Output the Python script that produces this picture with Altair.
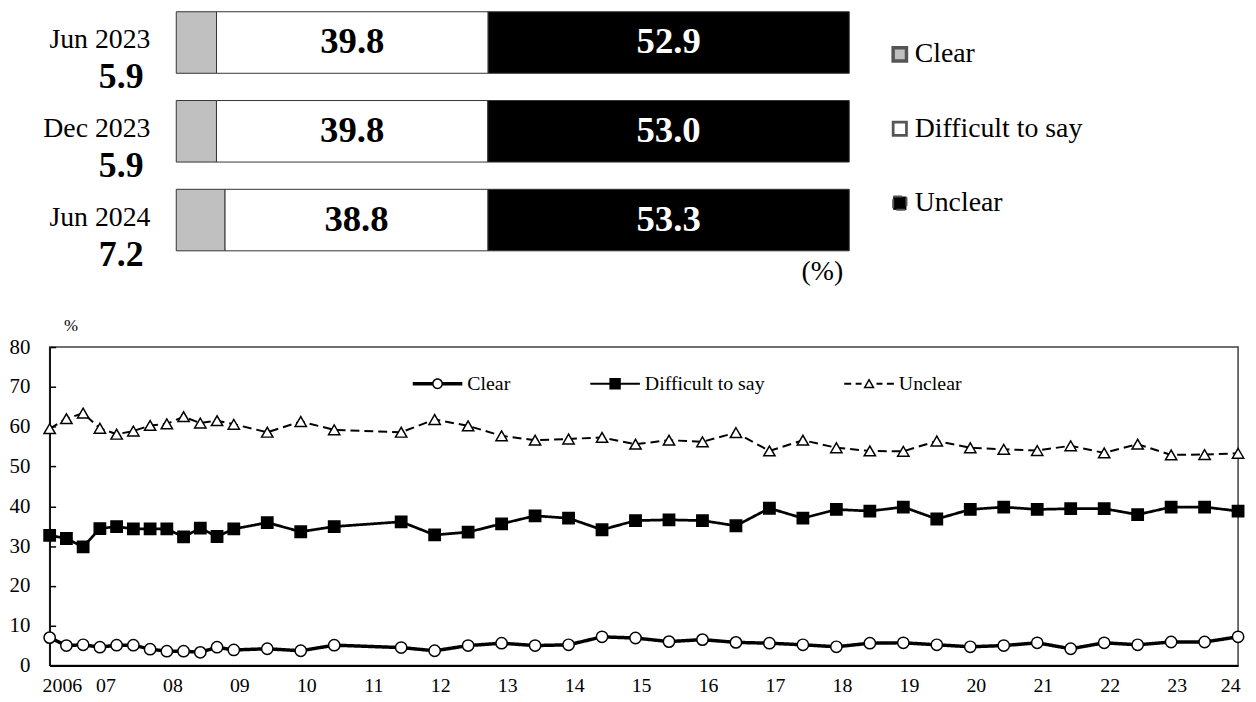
import altair as alt
import pandas as pd

FONT = "Liberation Serif"

# ---------------- top panel: latest three surveys ----------------
periods = ["Jun 2023", "Dec 2023", "Jun 2024"]
categories = ["Clear", "Difficult to say", "Unclear"]
clear_now = [5.9, 5.9, 7.2]
difficult_now = [39.8, 39.8, 38.8]
unclear_now = [52.9, 53.0, 53.3]

# ---------------- bottom panel: time series ----------------
survey_dates = [
    "2006-09", "2006-12", "2007-03", "2007-06", "2007-09", "2007-12",
    "2008-03", "2008-06", "2008-09", "2008-12", "2009-03", "2009-06",
    "2009-12", "2010-06", "2010-12", "2011-12", "2012-06", "2012-12",
    "2013-06", "2013-12", "2014-06", "2014-12", "2015-06", "2015-12",
    "2016-06", "2016-12", "2017-06", "2017-12", "2018-06", "2018-12",
    "2019-06", "2019-12", "2020-06", "2020-12", "2021-06", "2021-12",
    "2022-06", "2022-12", "2023-06", "2023-12", "2024-06",
]
clear_series = [
    7.0, 5.0, 5.2, 4.6, 5.1, 5.1, 4.1, 3.6, 3.6, 3.3, 4.6, 3.9,
    4.2, 3.7, 5.1, 4.5, 3.7, 5.0, 5.6, 5.0, 5.2, 7.2, 6.9, 6.0,
    6.5, 5.8, 5.6, 5.2, 4.7, 5.6, 5.7, 5.2, 4.7, 5.0, 5.7, 4.2,
    5.7, 5.2, 5.9, 5.9, 7.2,
]
difficult_series = [
    32.7, 31.9, 29.8, 34.4, 34.9, 34.3, 34.3, 34.3, 32.3, 34.5, 32.4, 34.3,
    35.9, 33.6, 34.9, 36.1, 32.8, 33.5, 35.6, 37.6, 37.0, 34.1, 36.4, 36.6,
    36.4, 35.1, 39.5, 37.0, 39.2, 38.8, 39.8, 36.8, 39.2, 39.8, 39.2, 39.4,
    39.4, 37.9, 39.8, 39.8, 38.8,
]
unclear_series = [
    59.5, 62.0, 63.4, 59.6, 58.1, 58.9, 60.3, 60.7, 62.5, 60.9, 61.5, 60.6,
    58.6, 61.3, 59.2, 58.6, 61.8, 60.2, 57.7, 56.6, 56.9, 57.3, 55.6, 56.6,
    56.2, 58.5, 53.9, 56.6, 54.7, 53.9, 53.8, 56.4, 54.7, 54.3, 54.0, 55.2,
    53.4, 55.6, 52.9, 53.0, 53.3,
]
series_names = ["Clear", "Difficult to say", "Unclear"]

# axis structure of the time-series panel
x_start, x_end = 2006 + 8 / 12, 2024 + 5 / 12
label_vals = [2006.85] + [y + 0.5 for y in range(2007, 2024)] + [2024.3]

W = 1198          # plot width (both panels)
H = 321           # plot height of the time-series panel

# ---------------- tables ----------------
rows = []
for i, p in enumerate(periods):
    for j, vals in enumerate([clear_now, difficult_now, unclear_now]):
        rows.append({"period": p, "category": categories[j], "value": vals[i], "order": j})
bar_df = pd.DataFrame(rows)
lab_df = pd.DataFrame({"period": periods, "clear": clear_now})

lrows = []
for name, vals in zip(series_names, [clear_series, difficult_series, unclear_series]):
    for d, v in zip(survey_dates, vals):
        y, m = int(d[:4]), int(d[5:])
        lrows.append({"series": name, "date": d, "t": y + (m - 1) / 12, "value": v})
line_df = pd.DataFrame(lrows)

# ---------------- top chart ----------------
xs = alt.Scale(domain=[-0.1881, 1.5778], nice=False, zero=False)
ys = alt.Scale(domain=periods, paddingInner=0.307, paddingOuter=0)

bars = alt.Chart(bar_df).mark_bar(stroke="#333333", strokeWidth=1).encode(
    x=alt.X("value:Q", stack="normalize", scale=xs, axis=None),
    y=alt.Y("period:N", scale=ys, axis=None),
    fill=alt.Fill("category:N",
                  scale=alt.Scale(domain=categories, range=["#c0c0c0", "#ffffff", "#000000"]),
                  legend=alt.Legend(title=None, orient="none", legendX=843, legendY=29,
                                    direction="vertical", symbolType="square", symbolSize=180,
                                    symbolStrokeColor="#555555", symbolStrokeWidth=1,
                                    labelFont=FONT, labelFontSize=28, labelColor="black",
                                    labelOffset=1, labelLimit=400, rowPadding=47, padding=0)),
    order=alt.Order("order:Q"),
)

seg_labels = alt.Chart(bar_df).transform_stack(
    stack="value", groupby=["period"], as_=["v0", "v1"], offset="normalize",
    sort=[alt.SortField("order", order="ascending")]
).transform_calculate(
    mid="(datum.v0 + datum.v1) / 2"
).transform_filter(
    "datum.category !== 'Clear'"
).mark_text(font=FONT, fontSize=37, fontWeight="bold", baseline="middle").encode(
    x=alt.X("mid:Q", scale=xs, axis=None),
    y=alt.Y("period:N", scale=ys, axis=None),
    text=alt.Text("value:Q", format=".1f"),
    color=alt.Color("category:N",
                    scale=alt.Scale(domain=["Difficult to say", "Unclear"], range=["black", "white"]),
                    legend=None),
)

names = alt.Chart(lab_df).mark_text(font=FONT, fontSize=28, align="right", baseline="middle",
                                    dx=-26, dy=-2, color="black").encode(
    x=alt.XDatum(0, scale=xs, axis=None),
    y=alt.Y("period:N", scale=ys, axis=None),
    text="period:N",
)

clear_vals = alt.Chart(lab_df).mark_text(font=FONT, fontSize=36, fontWeight="bold", align="right",
                                         baseline="middle", dx=-33, dy=35, color="black").encode(
    x=alt.XDatum(0, scale=xs, axis=None),
    y=alt.Y("period:N", scale=ys, axis=None),
    text=alt.Text("clear:Q", format=".1f"),
)

top = alt.layer(bars, seg_labels, names, clear_vals).properties(
    width=W, height=241, view=alt.ViewBackground(stroke="transparent"),
    title=alt.TitleParams("(%)", orient="bottom", anchor="start", frame="group", align="left",
                          dx=758, offset=-15, font=FONT, fontSize=28, fontWeight="normal",
                          color="black"),
)

# ---------------- bottom chart ----------------
xsc = alt.Scale(domain=[x_start, x_end], nice=False, zero=False)
ysc = alt.Scale(domain=[0, 80], nice=False)

ax_bottom = alt.Axis(
    orient="bottom", values=label_vals,
    labelExpr="datum.value < 2007 ? '2006' : format(floor(datum.value) % 100, '02d')",
    ticks=False, tickSize=0, domain=True, domainColor="black", domainWidth=2,
    grid=False, title=None, labelFont=FONT, labelFontSize=20, labelColor="black",
    labelPadding=10, labelFlush=False, labelOverlap=False, labelBound=False,
)
ay_left = alt.Axis(
    orient="left", values=list(range(0, 81, 10)), ticks=True, tickColor="black",
    tickSize={"expr": "-6"}, tickWidth=1.5,
    domainColor="black", domainWidth=1.5, grid=False, labelFont=FONT,
    labelFontSize=21, labelColor="black", labelPadding=26, labelFlush=False,
    title="%", titleAngle=0, titleX=21, titleY=-22, titleFontSize=17,
    titleFontWeight="normal", titleFont=FONT, titleAlign="center",
    titleBaseline="middle", titleColor="black",
)

# legend symbols (line + marker) drawn as filled custom symbol paths, 1 unit = 25 px
PATH_C = ("M-1,-0.07L-0.2,-0.07L-0.2,0.07L-1,0.07Z"
          "M0.2,-0.07L1,-0.07L1,0.07L0.2,0.07Z"
          "M0.22,0A0.22,0.22,0,1,1,-0.22,0A0.22,0.22,0,1,1,0.22,0Z"
          "M0.16,0A0.16,0.16,0,1,0,-0.16,0A0.16,0.16,0,1,0,0.16,0Z")
PATH_D = ("M-1,-0.04L1,-0.04L1,0.04L-1,0.04Z"
          "M-0.23,-0.23L0.23,-0.23L0.23,0.23L-0.23,0.23Z")
PATH_U = ("M-1,-0.04L-0.72,-0.04L-0.72,0.04L-1,0.04Z"
          "M-0.54,-0.04L-0.3,-0.04L-0.3,0.04L-0.54,0.04Z"
          "M0.3,-0.04L0.54,-0.04L0.54,0.04L0.3,0.04Z"
          "M0.72,-0.04L1,-0.04L1,0.04L0.72,0.04Z"
          "M0,-0.22L0.23,0.18L-0.23,0.18Z"
          "M0,-0.1L-0.126,0.12L0.126,0.12Z")

legend_bottom = alt.Legend(
    title=None, orient="none", legendX=366, legendY=12, direction="horizontal", columns=3,
    columnPadding=80, symbolSize=2500, symbolStrokeWidth=0,
    labelFont=FONT, labelFontSize=20, labelColor="black", labelOffset=5, labelLimit=400, padding=0,
)

lines = alt.Chart(line_df).mark_line(color="black").encode(
    x=alt.X("t:Q", scale=xsc, axis=ax_bottom),
    y=alt.Y("value:Q", scale=ysc, axis=ay_left),
    detail="series:N",
    strokeDash=alt.StrokeDash("series:N",
                              scale=alt.Scale(domain=series_names, range=[[1, 0], [1, 0], [9, 5]]),
                              legend=None),
    strokeWidth=alt.StrokeWidth("series:N",
                                scale=alt.Scale(domain=series_names, range=[3.5, 2, 2]),
                                legend=None),
)

points = alt.Chart(line_df).mark_point(size=130, opacity=1, stroke="black", strokeWidth=1.5).encode(
    x=alt.X("t:Q", scale=xsc),
    y=alt.Y("value:Q", scale=ysc),
    shape=alt.Shape("series:N",
                    scale=alt.Scale(domain=series_names, range=["circle", "square", "triangle-up"]),
                    legend=None),
    fill=alt.Fill("series:N",
                  scale=alt.Scale(domain=series_names, range=["white", "black", "white"]),
                  legend=None),
)

# legend-only layer (no data rows drawn)
legend_layer = alt.Chart(line_df).transform_filter("false").mark_point(
    size=125, opacity=1, filled=True
).encode(
    x=alt.X("t:Q", scale=xsc),
    y=alt.Y("value:Q", scale=ysc),
    shape=alt.Shape("series:N",
                    scale=alt.Scale(domain=series_names, range=[PATH_C, PATH_D, PATH_U]),
                    legend=legend_bottom),
    fill=alt.Fill("series:N",
                  scale=alt.Scale(domain=series_names, range=["black", "black", "black"]),
                  legend=legend_bottom),
)

bottom = alt.layer(lines, points, legend_layer).resolve_scale(
    shape="independent", fill="independent"
).properties(
    width=W, height=H, view=alt.ViewBackground(stroke="#404040", strokeWidth=1.5)
)

chart = alt.vconcat(top, bottom, spacing=97, bounds="flush").properties(padding=0).configure(
    font=FONT
)

chart.save("out.html", embed_options={"renderer": "svg", "actions": False})
